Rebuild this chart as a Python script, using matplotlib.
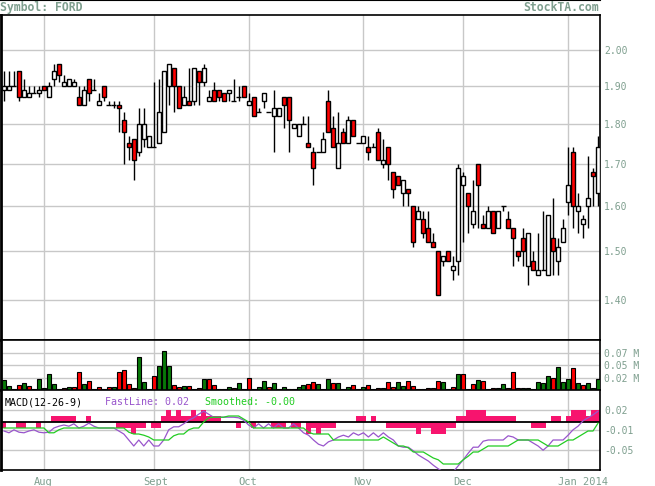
import numpy as np
import matplotlib.pyplot as plt
from matplotlib.ticker import NullLocator
from matplotlib.lines import Line2D

# daily OHLC (log price axis)
opens = [1.89, 1.89, 1.90, 1.94, 1.87, 1.87, 1.88, 1.88, 1.90, 1.87,
         1.92, 1.96, 1.90, 1.90, 1.90, 1.87, 1.85, 1.92, 1.89, 1.85,
         1.90, 1.85, 1.85, 1.85, 1.81, 1.75, 1.76, 1.73, 1.76, 1.74,
         1.74, 1.75, 1.78, 1.90, 1.95, 1.90, 1.85, 1.86, 1.86, 1.94,
         1.91, 1.86, 1.89, 1.89, 1.88, 1.88, 1.86, 1.87, 1.90, 1.85,
         1.87, 1.83, 1.86, 1.83, 1.82, 1.82, 1.87, 1.87, 1.79, 1.77,
         1.80, 1.75, 1.73, 1.73, 1.73, 1.86, 1.79, 1.69, 1.78, 1.75,
         1.81, 1.75, 1.75, 1.74, 1.74, 1.78, 1.70, 1.74, 1.68, 1.67,
         1.63, 1.64, 1.60, 1.57, 1.57, 1.55, 1.52, 1.50, 1.48, 1.50,
         1.46, 1.48, 1.65, 1.63, 1.56, 1.70, 1.56, 1.55, 1.59, 1.55,
         1.60, 1.57, 1.55, 1.50, 1.53, 1.47, 1.48, 1.45, 1.46, 1.45,
         1.53, 1.48, 1.52, 1.61, 1.73, 1.59, 1.56, 1.60, 1.68, 1.63]
highs = [1.94, 1.94, 1.94, 1.94, 1.92, 1.90, 1.90, 1.90, 1.90, 1.91,
         1.96, 1.96, 1.93, 1.92, 1.92, 1.90, 1.90, 1.92, 1.92, 1.88,
         1.90, 1.86, 1.86, 1.86, 1.83, 1.77, 1.76, 1.84, 1.84, 1.77,
         1.91, 1.92, 1.94, 1.96, 1.95, 1.90, 1.90, 1.95, 1.95, 1.94,
         1.96, 1.89, 1.91, 1.89, 1.88, 1.89, 1.92, 1.90, 1.90, 1.88,
         1.87, 1.84, 1.88, 1.83, 1.89, 1.84, 1.87, 1.87, 1.80, 1.80,
         1.82, 1.82, 1.74, 1.73, 1.78, 1.89, 1.82, 1.83, 1.79, 1.82,
         1.81, 1.75, 1.77, 1.77, 1.75, 1.79, 1.76, 1.74, 1.68, 1.67,
         1.66, 1.64, 1.60, 1.60, 1.59, 1.59, 1.54, 1.50, 1.49, 1.50,
         1.49, 1.70, 1.68, 1.63, 1.66, 1.70, 1.58, 1.60, 1.59, 1.59,
         1.60, 1.59, 1.55, 1.50, 1.55, 1.54, 1.50, 1.54, 1.59, 1.58,
         1.62, 1.53, 1.57, 1.74, 1.74, 1.63, 1.58, 1.72, 1.69, 1.77]
lows = [1.86, 1.89, 1.90, 1.86, 1.87, 1.87, 1.88, 1.87, 1.89, 1.87,
        1.90, 1.91, 1.90, 1.90, 1.90, 1.85, 1.85, 1.86, 1.89, 1.85,
        1.86, 1.85, 1.84, 1.78, 1.70, 1.71, 1.66, 1.72, 1.74, 1.74,
        1.74, 1.75, 1.78, 1.85, 1.83, 1.84, 1.85, 1.85, 1.85, 1.85,
        1.90, 1.86, 1.86, 1.86, 1.86, 1.86, 1.86, 1.86, 1.87, 1.85,
        1.82, 1.83, 1.84, 1.83, 1.73, 1.82, 1.79, 1.73, 1.79, 1.77,
        1.80, 1.74, 1.65, 1.73, 1.73, 1.78, 1.74, 1.69, 1.75, 1.75,
        1.77, 1.75, 1.75, 1.71, 1.74, 1.71, 1.69, 1.66, 1.62, 1.65,
        1.60, 1.60, 1.51, 1.57, 1.53, 1.52, 1.51, 1.41, 1.47, 1.48,
        1.44, 1.45, 1.52, 1.54, 1.55, 1.55, 1.55, 1.55, 1.54, 1.55,
        1.59, 1.55, 1.47, 1.48, 1.47, 1.43, 1.46, 1.45, 1.46, 1.45,
        1.45, 1.45, 1.52, 1.58, 1.55, 1.54, 1.53, 1.55, 1.60, 1.60]
closes = [1.90, 1.90, 1.90, 1.87, 1.89, 1.88, 1.88, 1.89, 1.89, 1.90,
          1.94, 1.93, 1.91, 1.92, 1.91, 1.85, 1.89, 1.88, 1.89, 1.86,
          1.87, 1.85, 1.85, 1.84, 1.78, 1.74, 1.71, 1.80, 1.80, 1.77,
          1.74, 1.83, 1.94, 1.96, 1.90, 1.84, 1.87, 1.85, 1.95, 1.91,
          1.95, 1.87, 1.86, 1.87, 1.86, 1.89, 1.86, 1.87, 1.87, 1.86,
          1.82, 1.83, 1.88, 1.83, 1.84, 1.84, 1.85, 1.81, 1.80, 1.80,
          1.80, 1.74, 1.69, 1.73, 1.76, 1.78, 1.74, 1.75, 1.75, 1.81,
          1.77, 1.75, 1.77, 1.73, 1.74, 1.71, 1.71, 1.70, 1.64, 1.65,
          1.66, 1.63, 1.52, 1.59, 1.54, 1.52, 1.51, 1.41, 1.49, 1.48,
          1.47, 1.69, 1.67, 1.60, 1.59, 1.65, 1.55, 1.59, 1.54, 1.59,
          1.60, 1.55, 1.53, 1.49, 1.50, 1.54, 1.46, 1.46, 1.46, 1.58,
          1.50, 1.51, 1.55, 1.65, 1.60, 1.60, 1.57, 1.62, 1.67, 1.74]

# volume, thousands of shares
volume = [18, 7, 2, 9, 13, 7, 2, 20, 4, 29,
          11, 2, 4, 5, 5, 32, 11, 16, 2, 5,
          2, 5, 5, 32, 36, 11, 4, 59, 14, 2,
          25, 43, 70, 43, 9, 5, 7, 7, 2, 4,
          20, 20, 9, 2, 2, 5, 4, 13, 2, 22,
          2, 5, 16, 5, 13, 2, 5, 2, 2, 5,
          9, 11, 14, 11, 2, 20, 13, 13, 2, 5,
          9, 2, 5, 9, 2, 4, 4, 14, 5, 14,
          7, 16, 7, 2, 2, 4, 4, 16, 14, 2,
          5, 29, 29, 2, 11, 18, 16, 2, 4, 4,
          11, 4, 32, 4, 4, 4, 2, 14, 13, 25,
          22, 41, 14, 20, 40, 13, 9, 13, 4, 20]

# MACD(12-26-9)
fast = [-0.015, -0.018, -0.013, -0.017, -0.018, -0.015, -0.013, -0.017, -0.018, -0.017,
        -0.010, -0.007, -0.005, -0.007, -0.003, -0.010, -0.007, -0.002, -0.007, -0.010,
        -0.010, -0.010, -0.010, -0.015, -0.020, -0.030, -0.040, -0.030, -0.040, -0.030,
        -0.040, -0.040, -0.030, -0.013, -0.008, -0.008, -0.003, 0.003, 0.007, 0.013,
        0.018, 0.013, 0.008, 0.008, 0.008, 0.008, 0.008, 0.007, 0.003, -0.005,
        -0.010, -0.003, -0.010, -0.003, -0.010, -0.003, -0.010, -0.010, -0.003, -0.010,
        -0.018, -0.022, -0.030, -0.037, -0.040, -0.033, -0.030, -0.025, -0.022, -0.025,
        -0.018, -0.022, -0.018, -0.025, -0.018, -0.025, -0.018, -0.025, -0.030, -0.040,
        -0.042, -0.042, -0.048, -0.055, -0.060, -0.065, -0.072, -0.078, -0.083, -0.087,
        -0.083, -0.073, -0.063, -0.052, -0.042, -0.042, -0.032, -0.030, -0.030, -0.030,
        -0.030, -0.023, -0.025, -0.030, -0.030, -0.030, -0.035, -0.040, -0.047, -0.040,
        -0.030, -0.030, -0.030, -0.022, -0.013, -0.007, 0.002, 0.007, 0.012, 0.018]
smooth = [-0.010, -0.010, -0.010, -0.010, -0.010, -0.010, -0.010, -0.010, -0.010, -0.018,
          -0.018, -0.013, -0.010, -0.010, -0.010, -0.010, -0.010, -0.010, -0.010, -0.010,
          -0.010, -0.010, -0.010, -0.010, -0.010, -0.017, -0.020, -0.020, -0.022, -0.025,
          -0.030, -0.030, -0.030, -0.030, -0.023, -0.020, -0.020, -0.013, -0.010, -0.010,
          0.000, 0.007, 0.008, 0.008, 0.008, 0.010, 0.010, 0.010, 0.005, 0.000,
          -0.010, -0.010, -0.010, -0.010, -0.010, -0.010, -0.010, -0.010, -0.010, -0.010,
          -0.010, -0.017, -0.020, -0.020, -0.020, -0.020, -0.030, -0.030, -0.030, -0.030,
          -0.030, -0.030, -0.030, -0.030, -0.030, -0.030, -0.025, -0.030, -0.035, -0.040,
          -0.040, -0.043, -0.050, -0.050, -0.050, -0.055, -0.060, -0.063, -0.070, -0.070,
          -0.070, -0.070, -0.063, -0.057, -0.050, -0.050, -0.045, -0.040, -0.040, -0.040,
          -0.040, -0.040, -0.035, -0.030, -0.030, -0.030, -0.030, -0.030, -0.035, -0.040,
          -0.040, -0.040, -0.035, -0.030, -0.030, -0.025, -0.020, -0.015, -0.015, -0.002]
hist = [-0.01, 0, 0, -0.01, -0.01, 0, 0, -0.01, 0, 0,
        0.01, 0.01, 0.01, 0.01, 0.01, 0, 0, 0.01, 0, 0,
        0, 0, 0, -0.01, -0.01, -0.01, -0.02, -0.01, -0.01, 0,
        -0.01, -0.01, 0.01, 0.02, 0.01, 0.02, 0.01, 0.01, 0.02, 0.01,
        0.02, 0.01, 0.01, 0.01, 0, 0, 0, -0.01, 0, 0,
        -0.01, 0, 0, 0, -0.01, -0.01, -0.01, 0, -0.01, -0.01,
        0, -0.02, -0.01, -0.02, -0.01, -0.01, -0.01, 0, 0, 0,
        0, 0.01, 0.01, 0, 0.01, 0, 0, -0.01, -0.01, -0.01,
        -0.01, -0.01, -0.01, -0.02, -0.01, -0.01, -0.02, -0.02, -0.02, -0.01,
        -0.01, 0.01, 0.01, 0.02, 0.02, 0.02, 0.02, 0.01, 0.01, 0.01,
        0.01, 0.01, 0.01, 0, 0, 0, -0.01, -0.01, -0.01, 0,
        0.01, 0.01, 0, 0.01, 0.02, 0.02, 0.02, 0.01, 0.02, 0.02]

month_idx = [8, 30, 49, 72, 92, 113]
month_lbl = ['Aug', 'Sept', 'Oct', 'Nov', 'Dec', 'Jan 2014']
price_ticks = [1.40, 1.50, 1.60, 1.70, 1.80, 1.90, 2.00]
vol_ticks = [22.5, 45, 67.5]
vol_lbl = ['0.02 M', '0.05 M', '0.07 M']
macd_ticks = [0.02, -0.01333, -0.04667]
macd_lbl = ['0.02', '-0.01', '-0.05']

o = np.array(opens); h = np.array(highs); l = np.array(lows); c = np.array(closes)
x = np.arange(len(c))
txtc = '#7f9f8f'
gridc = '#c8c8c8'
mono = 'DejaVu Sans Mono'

W, H = 655.0, 486.0
def rect(x0, y0, x1, y1):
    return [x0 / W, 1 - y1 / H, (x1 - x0) / W, (y1 - y0) / H]

fig = plt.figure(figsize=(6.55, 4.86), dpi=100)
ax = fig.add_axes(rect(1, 15, 600, 340))
axv = fig.add_axes(rect(1, 340, 600, 390))
axm = fig.add_axes(rect(1, 390, 600, 470))

for a in (ax, axv, axm):
    a.set_xlim(-0.6, len(c) - 0.6)
    a.set_xticks(month_idx)
    a.grid(True, color=gridc, lw=1.0, zorder=0)
    a.set_axisbelow(True)
    a.yaxis.tick_right()
    a.tick_params(length=0, labelsize=7, labelcolor=txtc, pad=3, labelbottom=False)
    for s in a.spines.values():
        s.set_color('black')
        s.set_linewidth(1.2)
    a.spines['left'].set_linewidth(2)
    for t in a.get_yticklabels():
        t.set_family(mono)

# price panel
ax.set_yscale('log')
ax.set_ylim(1.3217, 2.1025)
ax.set_yticks(price_ticks)
ax.set_yticklabels(['%.2f' % p for p in price_ticks], family=mono)
ax.yaxis.set_minor_locator(NullLocator())
ax.vlines(x, l, h, color='black', lw=1, zorder=2)
up = c > o
dn = c < o
dj = c == o
ax.bar(x[up], c[up] - o[up], bottom=o[up], width=0.8, color='white',
       edgecolor='black', lw=1, zorder=3)
ax.bar(x[dn], o[dn] - c[dn], bottom=c[dn], width=0.8, color='#ff0000',
       edgecolor='black', lw=1, zorder=3)
ax.hlines(c[dj], x[dj] - 0.5, x[dj] + 0.5, color='black', lw=1, zorder=3)

# volume panel
vcol = ['#087808'] + ['#087808' if c[i] >= c[i - 1] else '#ff0000' for i in range(1, len(c))]
axv.bar(x, volume, width=0.8, color=vcol, edgecolor='black', lw=0.8, zorder=3)
axv.set_ylim(0, 90)
axv.set_yticks(vol_ticks)
axv.set_yticklabels(vol_lbl, family=mono)

# MACD panel
hcol = '#f7146e'
axm.bar(x, hist, width=1.0, color=hcol, lw=0, zorder=2)
axm.axhline(0, color='black', lw=1.3, zorder=3)
axm.plot(x, fast, color='#9955cc', lw=0.9, zorder=4)
axm.plot(x, smooth, color='#22cc22', lw=0.9, zorder=4)
axm.set_ylim(-0.08, 0.05333)
axm.set_yticks(macd_ticks)
axm.set_yticklabels(macd_lbl, family=mono)

for i, lbl in zip(month_idx, month_lbl):
    axm.annotate(lbl, (i, 0), xycoords=('data', 'axes fraction'),
                 xytext=(-7.2, -5), textcoords='offset points',
                 ha='left', va='top', fontsize=7.5, color=txtc, family=mono,
                 annotation_clip=False)

fig.text(5 / W, 1 - 402 / H, 'MACD(12-26-9)', fontsize=7.2, family=mono,
         color='black', va='center')
fig.text(105 / W, 1 - 402 / H, 'FastLine: %.2f' % fast[-1], fontsize=7.2,
         family=mono, color='#9955cc', va='center')
fig.text(205 / W, 1 - 402 / H, 'Smoothed: %.2f' % smooth[-1], fontsize=7.2,
         family=mono, color='#22cc22', va='center')

# header strip with thin top border
fig.add_artist(Line2D([0, 600 / W], [1 - 0.5 / H, 1 - 0.5 / H], color='black',
                      lw=0.8, transform=fig.transFigure))
fig.text(0, 1 - 7.5 / H, 'Symbol: FORD', fontsize=8.3, family=mono,
         fontweight='bold', color=txtc, va='center')
fig.text(599 / W, 1 - 7.5 / H, 'StockTA.com', fontsize=8.3, family=mono,
         fontweight='bold', color=txtc, va='center', ha='right')

fig.savefig('out.png', dpi=100)
